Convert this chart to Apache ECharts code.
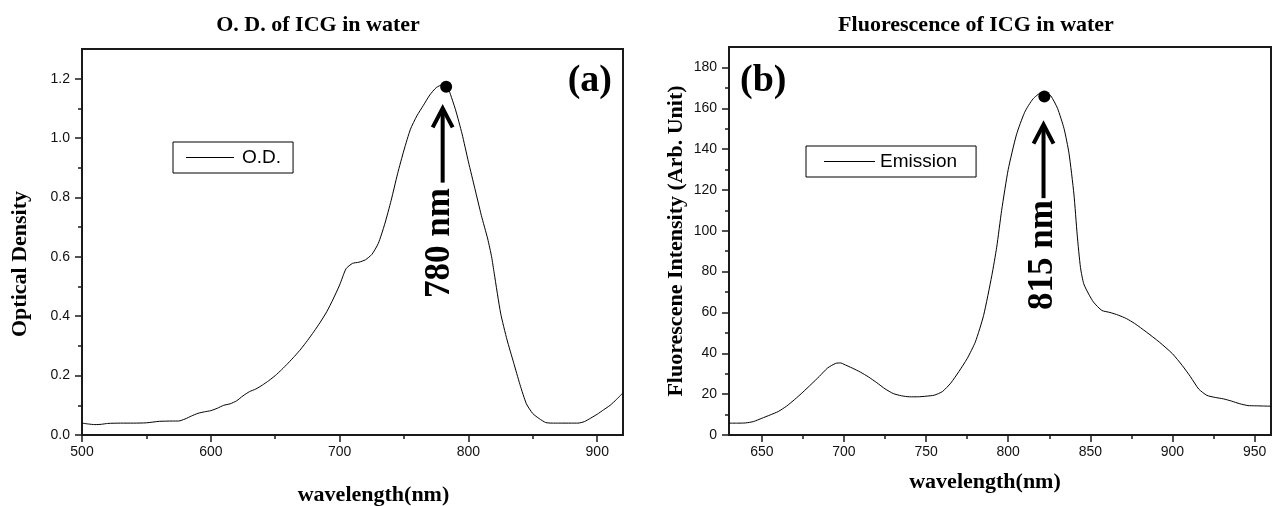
<!DOCTYPE html>
<html><head><meta charset="utf-8">
<script src="https://cdn.jsdelivr.net/npm/echarts@6/dist/echarts.min.js"></script>
<style>html,body{margin:0;padding:0;background:#fff}#c{width:1276px;height:506px}</style>
</head><body><div id="c"></div>
<script>
// ---- Panel (a): absorbance (O.D.) ----
const odWavelength = [500,505,510,515,520,530,540,550,560,570,575,580,585,590,595,600,605,610,615,620,625,630,635,640,645,650,655,660,665,670,675,680,685,690,695,700,705,710,715,720,725,730,735,740,745,750,755,760,765,770,775,780,783,785,790,795,800,805,810,815,818,820,825,830,835,840,845,850,855,860,865,870,880,885,890,895,900,905,910,915,920];
const odValues     = [0.040,0.037,0.035,0.036,0.039,0.040,0.040,0.041,0.046,0.047,0.047,0.054,0.064,0.073,0.078,0.082,0.090,0.100,0.105,0.115,0.132,0.146,0.155,0.168,0.183,0.200,0.220,0.242,0.265,0.290,0.318,0.348,0.380,0.415,0.458,0.505,0.560,0.578,0.582,0.590,0.608,0.645,0.710,0.790,0.880,0.960,1.030,1.075,1.110,1.145,1.170,1.180,1.175,1.160,1.095,1.015,0.920,0.830,0.740,0.660,0.600,0.545,0.410,0.320,0.245,0.170,0.105,0.072,0.055,0.042,0.040,0.040,0.040,0.040,0.045,0.057,0.070,0.085,0.100,0.120,0.142];
const odXTicks = [500,600,700,800,900];
const odXMinor = [550,650,750,850];
const odYTicks = [0,0.2,0.4,0.6,0.8,1.0,1.2];
const odYMinor = [0.1,0.3,0.5,0.7,0.9,1.1];
const odPeak   = [782.7, 1.173];
const odArrow  = [780, 0.85, 1.10];   // wavelength, tail, tip

// ---- Panel (b): fluorescence emission ----
const emWavelength = [630,635,640,645,650,655,660,665,670,675,680,685,690,695,698,700,705,710,715,720,725,730,735,740,745,750,755,760,765,770,775,780,785,790,793,796,800,805,810,815,820,823,826,830,834,837,840,842,844,846,849,852,857,862,867,872,877,884,892,900,906,911,916,921,926,931,936,941,946,950,955,960];
const emValues     = [5.8,5.8,5.9,6.6,8.2,9.8,11.5,14.1,17.4,21.0,24.8,28.7,32.8,35.1,35.3,34.6,32.8,30.8,28.4,25.6,22.6,20.3,19.2,18.7,18.7,19.0,19.5,21.3,25.4,31.1,37.4,45.6,58.5,78,92,110,130,147,158,164.5,167.5,167.5,166,160,150,138,118,98,82,74,69,65,61,60,58.7,57,54.6,50.5,45.5,39.8,34,28.5,22.5,19.4,18.4,17.7,16.6,15.3,14.4,14.3,14.2,14.1];
const emXTicks = [650,700,750,800,850,900,950];
const emXMinor = [675,725,775,825,875,925];
const emYTicks = [0,20,40,60,80,100,120,140,160,180];
const emYMinor = [10,30,50,70,90,110,130,150,170];
const emPeak   = [822, 165.8];
const emArrow  = [821.5, 116, 152];

const zip = (a, b) => a.map((v, i) => [v, b[i]]);
const serif = 'Liberation Serif';
const sans = 'Liberation Sans';
const axisColor = '#1a1a1a';

function majorAxis(grid, min, max, ticks, fmt, pos, name, nameGap, namePad) {
  return {
    type: 'value', gridIndex: grid, min: min, max: max, position: pos,
    name: name, nameLocation: 'middle', nameGap: nameGap,
    nameTextStyle: {fontFamily: serif, fontWeight: 'bold', fontSize: 22, color: '#000', padding: namePad},
    axisLine: {show: true, onZero: false, lineStyle: {color: axisColor, width: 2}},
    axisTick: {show: true, inside: false, length: 7, customValues: ticks, lineStyle: {color: axisColor, width: 1.5}},
    axisLabel: {show: true, customValues: ticks, margin: pos === 'left' ? 12 : 10, formatter: fmt,
      fontFamily: sans, fontSize: 14, color: '#111'},
    splitLine: {show: false}, minorTick: {show: false}
  };
}
function minorAxis(grid, min, max, ticks, pos) {
  return {
    type: 'value', gridIndex: grid, min: min, max: max, position: pos,
    axisLine: {show: false},
    axisTick: {show: true, inside: false, length: 4, customValues: ticks, lineStyle: {color: axisColor, width: 1.5}},
    axisLabel: {show: false}, splitLine: {show: false}
  };
}
function arrowSeries(xi, yi, arrow) {
  return {
    type: 'custom', xAxisIndex: xi, yAxisIndex: yi, data: [arrow], silent: true, clip: false,
    renderItem: function (params, api) {
      const p0 = api.coord([api.value(0), api.value(1)]);
      const p1 = api.coord([api.value(0), api.value(2)]);
      return {type: 'group', children: [
        {type: 'line', shape: {x1: p0[0], y1: p0[1], x2: p1[0], y2: p1[1] + 2},
         style: {stroke: '#000', lineWidth: 4}},
        {type: 'polyline', shape: {points: [[p1[0] - 10, p1[1] + 19], [p1[0], p1[1]], [p1[0] + 10, p1[1] + 19]]},
         style: {stroke: '#000', lineWidth: 4, fill: null, lineJoin: 'miter'}}
      ]};
    }
  };
}

const chart = echarts.init(document.getElementById('c'), null, {renderer: 'canvas'});
chart.setOption({
  animation: false,
  backgroundColor: '#fff',
  title: [
    {text: 'O. D. of ICG in water', left: 313, top: 9, textAlign: 'center',
     textStyle: {fontFamily: serif, fontWeight: 'bold', fontSize: 22, color: '#000'}},
    {text: 'Fluorescence of ICG in water', left: 971, top: 9, textAlign: 'center',
     textStyle: {fontFamily: serif, fontWeight: 'bold', fontSize: 22, color: '#000'}}
  ],
  grid: [
    {left: 82, top: 49, width: 541, height: 386, show: true, borderColor: axisColor, borderWidth: 2,
     containLabel: false, outerBoundsMode: 'none'},
    {left: 729, top: 47, width: 542, height: 388, show: true, borderColor: axisColor, borderWidth: 2,
     containLabel: false, outerBoundsMode: 'none'}
  ],
  legend: [
    {data: ['O.D.'], left: 173, top: 142, orient: 'horizontal', icon: 'rect', itemWidth: 48, itemHeight: 1,
     padding: [6, 12, 6, 13], itemGap: 0, borderColor: '#000', borderWidth: 1, borderRadius: 0,
     itemStyle: {color: '#000'},
     textStyle: {fontFamily: sans, fontSize: 19, color: '#000', padding: [0, 0, 0, 3]}},
    {data: ['Emission'], left: 806, top: 146, orient: 'horizontal', icon: 'rect', itemWidth: 51, itemHeight: 1,
     padding: [6, 19, 6, 18], itemGap: 0, borderColor: '#000', borderWidth: 1, borderRadius: 0,
     itemStyle: {color: '#000'},
     textStyle: {fontFamily: sans, fontSize: 19, color: '#000', padding: [0, 0, 0, 0]}}
  ],
  xAxis: [
    majorAxis(0, 500, 920, odXTicks, v => String(v), 'bottom', 'wavelength(nm)', 49, [0, 0, 0, 42]),
    minorAxis(0, 500, 920, odXMinor, 'bottom'),
    majorAxis(1, 630, 960, emXTicks, v => String(v), 'bottom', 'wavelength(nm)', 36, [0, 30, 0, 0]),
    minorAxis(1, 630, 960, emXMinor, 'bottom')
  ],
  yAxis: [
    majorAxis(0, 0, 1.3, odYTicks, v => v.toFixed(1), 'left', 'Optical Density', 51, [0, 44, 0, 0]),
    minorAxis(0, 0, 1.3, odYMinor, 'left'),
    majorAxis(1, 0, 190, emYTicks, v => String(Math.round(v)), 'left', 'Fluorescene Intensity (Arb. Unit)', 42, [0, 0, 0, 0]),
    minorAxis(1, 0, 190, emYMinor, 'left')
  ],
  series: [
    {name: 'O.D.', type: 'line', xAxisIndex: 0, yAxisIndex: 0, data: zip(odWavelength, odValues),
     symbol: 'none', smooth: 0.2, lineStyle: {color: '#000', width: 1}, itemStyle: {color: '#000'}},
    arrowSeries(0, 0, odArrow),
    {name: 'odPeak', type: 'scatter', xAxisIndex: 0, yAxisIndex: 0, data: [odPeak],
     symbol: 'circle', symbolSize: 12, itemStyle: {color: '#000', opacity: 1}, silent: true},
    {name: 'Emission', type: 'line', xAxisIndex: 2, yAxisIndex: 2, data: zip(emWavelength, emValues),
     symbol: 'none', smooth: 0.2, lineStyle: {color: '#000', width: 1}, itemStyle: {color: '#000'}},
    arrowSeries(2, 2, emArrow),
    {name: 'emPeak', type: 'scatter', xAxisIndex: 2, yAxisIndex: 2, data: [emPeak],
     symbol: 'circle', symbolSize: 12, itemStyle: {color: '#000', opacity: 1}, silent: true}
  ],
  graphic: [
    {type: 'text', x: 612, y: 81, style: {text: '(a)', align: 'right', verticalAlign: 'middle',
      font: 'bold 38px "Liberation Serif"', fill: '#000'}},
    {type: 'text', x: 740, y: 81, style: {text: '(b)', align: 'left', verticalAlign: 'middle',
      font: 'bold 38px "Liberation Serif"', fill: '#000'}},
    {type: 'text', x: 440, y: 243, rotation: Math.PI / 2, style: {text: '780 nm', align: 'center', verticalAlign: 'middle',
      font: 'bold 35px "Liberation Serif"', fill: '#000'}},
    {type: 'text', x: 1043, y: 255, rotation: Math.PI / 2, style: {text: '815 nm', align: 'center', verticalAlign: 'middle',
      font: 'bold 35px "Liberation Serif"', fill: '#000'}}
  ]
});
</script></body></html>
